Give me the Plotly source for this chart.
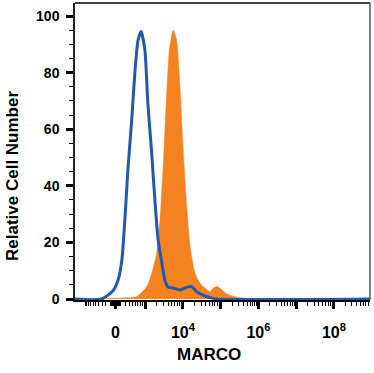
import numpy as np
import plotly.graph_objects as go

# ---- data (x in display units of the biexponential axis: 4 = 10^4, etc.) ----
isotype_x = [1.14, 1.85, 2.15, 2.28, 2.38, 2.46, 2.54, 2.64, 2.73, 2.81, 2.89, 2.99, 3.07, 3.17,
             3.26, 3.34, 3.44, 3.52, 3.60, 3.74, 3.92, 4.10, 4.23, 4.36, 4.53, 4.72, 4.90, 8.95]
isotype_y = [0, 0, 3, 6.7, 13.8, 28, 45.6, 63, 81, 91.5, 94.5, 88, 69, 51.6,
             34, 21, 12.7, 6.7, 4.2, 3.9, 3.2, 4.2, 4.4, 2.6, 1.4, 0.5, 0, 0]

marco_x = [1.14, 2.07, 2.46, 2.77, 3.04, 3.17, 3.30, 3.39, 3.48, 3.57, 3.64, 3.74, 3.83, 3.92,
           4.01, 4.10, 4.19, 4.32, 4.45, 4.58, 4.72, 4.80, 4.91, 5.03, 5.16, 5.33, 5.56, 5.78, 8.95]
marco_y = [0, 0.3, 0.4, 0.8, 4.4, 9, 16, 28, 48, 73, 88, 95, 91.5, 75,
           51.6, 32.5, 18.4, 9, 5.6, 3.9, 2.6, 3.9, 4.4, 3.2, 1.8, 1.0, 0.4, 0, 0]

y_ticks = [0, 20, 40, 60, 80, 100]
x_tick_labels = ["0", "10<sup>4</sup>", "10<sup>6</sup>", "10<sup>8</sup>"]
x_tick_values = [0, 1e4, 1e6, 1e8]

# ---- biexponential-like transform for axis ticks ----
W = 326.0
D0 = 2.212


def biex(v):
    return D0 + np.arcsinh(np.asarray(v, dtype=float) / W) / np.log(10)


major_vals = list(biex(x_tick_values)) + [3, 5, 7]
major_text = x_tick_labels + ["", "", ""]

minor_raw = []
for dec in range(1, 9):
    for m in range(1, 10):
        minor_raw.append(m * 10 ** dec)
minor_raw = np.array(minor_raw, dtype=float)
minor_vals = list(biex(minor_raw)) + list(biex(-minor_raw[minor_raw <= 1000]))
minor_vals = [v for v in minor_vals if 1.14 <= v <= 8.95]

BLUE = "#1f5aab"
ORANGE = "#f58220"
FONT = "Liberation Sans, Arial, sans-serif"

fig = go.Figure()
fig.add_trace(go.Scatter(x=marco_x, y=marco_y, mode="lines", fill="tozeroy",
                         line=dict(color=ORANGE, width=0.5, shape="spline", smoothing=0.6),
                         fillcolor=ORANGE, hoverinfo="skip", showlegend=False))
fig.add_trace(go.Scatter(x=isotype_x, y=isotype_y, mode="lines",
                         line=dict(color=BLUE, width=3, shape="spline", smoothing=0.6),
                         hoverinfo="skip", showlegend=False))

fig.update_layout(
    width=374, height=373,
    margin=dict(l=75, r=4, t=3, b=73, autoexpand=False),
    paper_bgcolor="white", plot_bgcolor="white",
    font=dict(family=FONT, color="black"),
    xaxis=dict(range=[1.139, 8.954], showgrid=False, zeroline=False, automargin=False,
               showline=True, linecolor="black", linewidth=1.5,
               tickmode="array", tickvals=major_vals, ticktext=major_text,
               ticks="outside", ticklen=7, tickwidth=3, tickcolor="black",
               ticklabelstandoff=10,
               tickfont=dict(size=16, family=FONT, weight="bold"),
               minor=dict(tickmode="array", tickvals=minor_vals, ticks="outside",
                          ticklen=4, tickwidth=1, tickcolor="black", showgrid=False)),
    yaxis=dict(range=[-0.35, 104.6], showgrid=False, zeroline=False, automargin=False,
               showline=True, linecolor="#222", linewidth=1.5,
               tickmode="array", tickvals=y_ticks,
               ticks="outside", ticklen=7, tickwidth=3, tickcolor="black",
               ticklabelstandoff=4,
               tickfont=dict(size=14, family=FONT, weight="bold"),
               minor=dict(dtick=5, ticks="outside", ticklen=4, tickwidth=1,
                          tickcolor="black", showgrid=False)),
    shapes=[
        dict(type="line", xref="paper", yref="paper", x0=0, x1=1, y0=1, y1=1,
             line=dict(color="black", width=1.5)),
        dict(type="line", xref="paper", yref="paper", x0=1, x1=1, y0=0, y1=1,
             line=dict(color="#555", width=1.5)),
    ],
    annotations=[
        dict(text="Relative Cell Number", xref="paper", yref="paper",
             x=-0.2136, y=0.4175, xanchor="center", yanchor="middle",
             textangle=-90, showarrow=False,
             font=dict(size=17, family=FONT, weight="bold", color="black")),
        dict(text="MARCO", xref="paper", yref="paper",
             x=0.454, y=-0.185, xanchor="center", yanchor="middle",
             showarrow=False,
             font=dict(size=17, family=FONT, weight="bold", color="black")),
    ],
)

fig.write_html(
    "out.html",
    config={"displayModeBar": False},
    post_script="document.body.style.margin='0px';document.body.style.padding='0px';"
                "document.body.style.overflow='hidden';",
)
